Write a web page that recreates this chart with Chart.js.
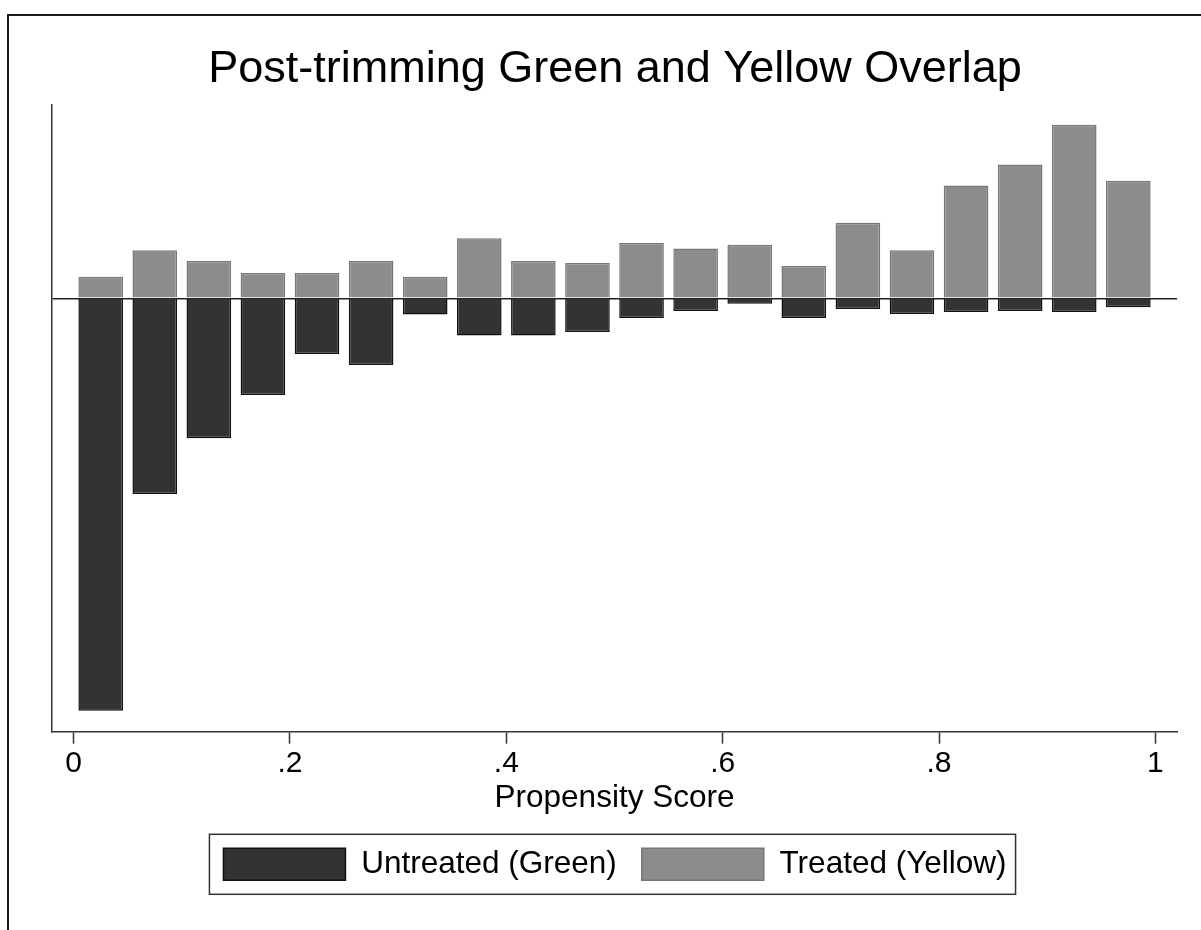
<!DOCTYPE html>
<html>
<head>
<meta charset="utf-8">
<title>Post-trimming Green and Yellow Overlap</title>
<script src="https://cdn.jsdelivr.net/npm/chart.js@4.4.0/dist/chart.umd.min.js"></script>
<style>
  html, body { margin: 0; padding: 0; background: #fff; overflow: hidden; width: 1201px; height: 930px; }
  #frame { position: absolute; left: 7px; top: 14px; width: 1260px; height: 980px; border: 2px solid #1a1a1a; box-sizing: border-box; }
  #wrap { position: absolute; left: 9px; top: 16px; width: 1212px; height: 914px; }
</style>
</head>
<body>
<div id="frame"></div>
<div id="wrap"><canvas id="overlapChart" width="1212" height="914"></canvas></div>
<script>
// -------------------------------
// DATA (histogram density per 0.05 bin)
// -------------------------------
const binMids = [0.025, 0.075, 0.125, 0.175, 0.225, 0.275, 0.325, 0.375, 0.425, 0.475,
                 0.525, 0.575, 0.625, 0.675, 0.725, 0.775, 0.825, 0.875, 0.925, 0.975];

// untreated drawn below zero (mirrored)
const untreatedDensity = [-6.87, -3.26, -2.33, -1.61, -0.93, -1.11, -0.27, -0.62, -0.62, -0.56,
                          -0.33, -0.21, -0.09, -0.33, -0.18, -0.26, -0.23, -0.21, -0.23, -0.15];

const treatedDensity = [0.36, 0.80, 0.62, 0.42, 0.42, 0.62, 0.36, 1.00, 0.62, 0.59,
                        0.92, 0.83, 0.89, 0.54, 1.26, 0.80, 1.88, 2.23, 2.89, 1.96];

const xTickValues = [0, 0.2, 0.4, 0.6, 0.8, 1];
const xTickLabels = ["0", ".2", ".4", ".6", ".8", "1"];

Chart.defaults.font.family = "'Liberation Sans', Arial, sans-serif";
Chart.defaults.color = "#000";

// -------------------------------
// FRAME AROUND LEGEND
// -------------------------------
const legendFrame = {
  id: "legendFrame",
  afterDraw(chart) {
    const boxes = chart.legend.legendHitBoxes;
    if (!boxes || !boxes.length) return;
    const first = boxes[0];
    const last = boxes[boxes.length - 1];
    const c = chart.ctx;
    c.save();
    c.strokeStyle = "#333";
    c.lineWidth = 1.5;
    c.strokeRect(first.left - 14, first.top - 14,
                 last.left + last.width - first.left + 23, first.height + 28);
    c.restore();
  }
};

function toPoints(values) {
  return binMids.map((x, i) => ({ x: x, y: values[i] }));
}

// -------------------------------
// RENDER
// -------------------------------
function renderChart() {
  const ctx = document.getElementById("overlapChart").getContext("2d");

  new Chart(ctx, {
    type: "bar",
    data: {
      datasets: [
        {
          label: "Untreated (Green)",
          data: toPoints(untreatedDensity),
          backgroundColor: "#333333",
          borderColor: "#111111",
          borderWidth: 1.5,
          grouped: false,
          barPercentage: 0.825,
          categoryPercentage: 1,
        },
        {
          label: "Treated (Yellow)",
          data: toPoints(treatedDensity),
          backgroundColor: "#8c8c8c",
          borderColor: "#777777",
          borderWidth: 1.5,
          grouped: false,
          barPercentage: 0.825,
          categoryPercentage: 1,
        },
      ],
    },
    options: {
      responsive: false,
      animation: false,
      layout: { padding: { top: 0, left: 0, right: 0, bottom: 39.7 } },
      plugins: {
        title: {
          display: true,
          text: "Post-trimming Green and Yellow Overlap",
          font: { size: 45, weight: "normal" },
          color: "#000",
          padding: { top: 26.2, bottom: 8.8 },
        },
        legend: {
          position: "bottom",
          labels: {
            font: { size: 31.5 },
            boxWidth: 122,
            boxHeight: 32,
            padding: 25,
            color: "#000",
          },
        },
        tooltip: { enabled: false },
      },
      scales: {
        x: {
          type: "linear",
          min: -0.02,
          max: 1.02,
          offset: false,
          afterBuildTicks: (s) => { s.ticks = xTickValues.map(v => ({ value: v })); },
          afterFit: (s) => { s.height = 91.6; },
          ticks: {
            font: { size: 30 },
            color: "#000",
            padding: 2,
            maxRotation: 0,
            autoSkip: false,
            callback: (value, index) => xTickLabels[index],
          },
          grid: {
            offset: false,
            drawOnChartArea: false,
            drawTicks: true,
            tickLength: 12,
            tickColor: "#333",
            tickWidth: 1.5,
          },
          border: { display: true, color: "#333", width: 1.5 },
          title: {
            display: true,
            text: "Propensity Score",
            font: { size: 31.5 },
            color: "#000",
            padding: { top: 0, bottom: 6 },
          },
        },
        y: {
          min: -7.22,
          max: 3.22,
          z: 1,
          afterBuildTicks: (s) => { s.ticks = [{ value: 0 }]; },
          afterFit: (s) => { s.width = 43; },
          ticks: { display: false },
          grid: { drawTicks: false, color: "#222", lineWidth: 1.5 },
          border: { display: true, color: "#333", width: 1.5 },
        },
        yRight: {
          position: "right",
          display: true,
          afterFit: (s) => { s.width = 44; },
          ticks: { display: false },
          grid: { display: false },
          border: { display: false },
        },
      },
    },
    plugins: [legendFrame],
  });
}

renderChart();
</script>
</body>
</html>
